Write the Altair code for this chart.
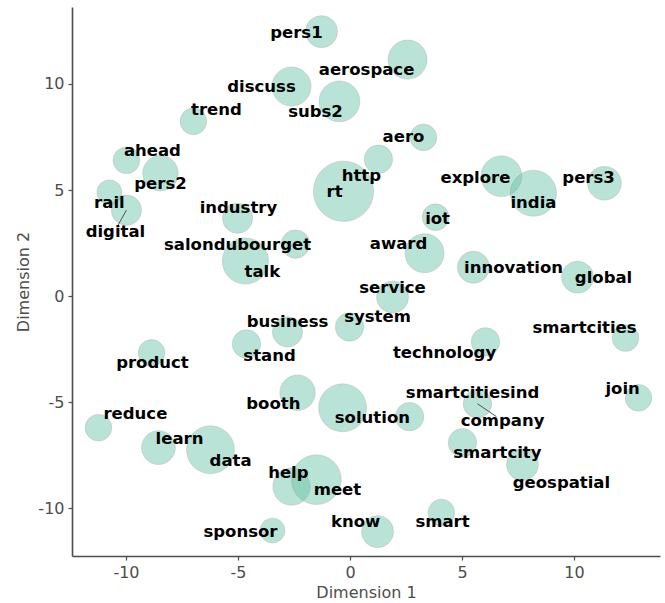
import altair as alt
import pandas as pd

words = ["pers1", "aerospace", "discuss", "subs2", "trend", "ahead", "pers2", "rail",
         "digital", "industry", "salondubourget", "talk", "rt", "http", "aero", "explore",
         "india", "pers3", "iot", "award", "innovation", "global", "service", "system",
         "technology", "smartcities", "join", "smartcitiesind", "solution", "company",
         "smartcity", "geospatial", "business", "stand", "product", "booth", "reduce",
         "learn", "data", "help", "meet", "sponsor", "know", "smart"]
dim1 = [-1.27, 2.57, -2.61, -0.47, -6.99, -9.98, -8.46, -10.74,
        -9.98, -5.02, -2.43, -4.67, -0.29, 1.27, 3.28, 6.76,
        8.19, 11.36, 3.82, 3.33, 5.51, 10.16, 1.90, -0.02,
        6.05, 12.30, 12.88, 2.66, -0.33, 5.69,
        5.02, 7.70, -2.79, -4.62, -8.86, -2.34, -11.23,
        -8.55, -6.23, -2.61, -1.50, -3.46, 1.23, 4.08]
dim2 = [12.47, 11.15, 9.88, 9.18, 8.24, 6.40, 5.79, 4.89,
        4.05, 3.67, 2.45, 1.65, 4.94, 6.45, 7.48, 5.65,
        4.85, 5.32, 3.72, 2.02, 1.36, 0.89, -0.05, -1.46,
        -2.16, -1.98, -4.80, -5.69, -5.27, -5.08,
        -6.92, -7.95, -1.69, -2.26, -2.68, -4.56, -6.21,
        -7.15, -7.25, -8.99, -8.66, -11.06, -11.11, -10.21]
freq = [18, 22, 22, 23, 15, 15, 20, 14,
        17, 17, 16, 26, 34, 16, 15, 23,
        26, 19, 15, 22, 18, 18, 18, 16,
        16, 15, 15, 16, 27, 16,
        16, 18, 17, 16, 15, 20, 15,
        19, 27, 21, 28, 14, 18, 15]
label_x = [-2.39, 0.74, -3.95, -1.54, -5.96, -8.82, -8.46, -10.74,
           -10.47, -4.98, -5.02, -3.91, -0.69, 0.51, 2.39, 5.60,
           8.19, 10.65, 3.91, 2.17, 7.30, 11.32, 1.90, 1.23,
           4.22, 10.47, 12.17, 5.47, 1.00, 6.81,
           6.58, 9.44, -2.79, -3.59, -8.82, -3.42, -9.58,
           -7.61, -5.33, -2.75, -0.56, -4.89, 0.25, 4.13]
label_y = [12.42, 10.64, 9.88, 8.66, 8.75, 6.82, 5.27, 4.38,
           3.01, 4.14, 2.40, 1.13, 4.89, 5.65, 7.48, 5.55,
           4.38, 5.55, 3.62, 2.45, 1.32, 0.85, 0.38, -0.99,
           -2.68, -1.51, -4.38, -4.56, -5.74, -5.88,
           -7.39, -8.80, -1.22, -2.82, -3.15, -5.08, -5.55,
           -6.73, -7.76, -8.33, -9.13, -11.11, -10.64, -10.68]

seg_words = ["digital", "company"]
seg_x = [-9.98, 5.69]
seg_y = [4.05, -5.08]
seg_x2 = [-10.38, 6.54]
seg_y2 = [3.29, -5.69]

df = pd.DataFrame({"word": words, "dim1": dim1, "dim2": dim2, "freq": freq,
                   "lx": label_x, "ly": label_y})
df["area"] = [f * f for f in freq]
seg = pd.DataFrame({"word": seg_words, "x": seg_x, "y": seg_y, "x2": seg_x2, "y2": seg_y2})

xscale = alt.Scale(domain=[-12.41, 13.84], nice=False, zero=False)
yscale = alt.Scale(domain=[-12.26, 13.63], nice=False, zero=False)

axis_common = dict(
    grid=False, domainColor="#4d4d4d", domainWidth=1.6, tickColor="#4d4d4d",
    tickSize=4, tickWidth=1.2, labelColor="#4d4d4d", labelFontSize=16,
    labelFont="DejaVu Sans", titleFont="DejaVu Sans", titleFontSize=16,
    titleColor="#4d4d4d", titleFontWeight="normal", values=[-10, -5, 0, 5, 10],
    labelPadding=4,
    labelExpr="datum.value < 0 ? '-' + abs(datum.value) : '' + datum.value",
)

base = alt.Chart(df)

points = base.mark_circle(color="#66c2a5", opacity=0.45, stroke="#666666",
                          strokeOpacity=0.5, strokeWidth=1).encode(
    x=alt.X("dim1:Q", scale=xscale, title="Dimension 1",
            axis=alt.Axis(**axis_common, titlePadding=4)),
    y=alt.Y("dim2:Q", scale=yscale, title="Dimension 2",
            axis=alt.Axis(**axis_common, titlePadding=6)),
    size=alt.Size("area:Q", scale=alt.Scale(type="linear", domain=[0, 1156],
                                             range=[0, 3632]), legend=None),
)

segments = alt.Chart(seg).mark_rule(color="#555555", strokeWidth=1).encode(
    x=alt.X("x:Q", scale=xscale), y=alt.Y("y:Q", scale=yscale),
    x2="x2:Q", y2="y2:Q",
)

labels = base.mark_text(font="DejaVu Sans", fontWeight="bold", fontSize=16.5,
                        color="black", baseline="middle", align="center").encode(
    x=alt.X("lx:Q", scale=xscale), y=alt.Y("ly:Q", scale=yscale), text="word:N",
)

chart = alt.layer(points, segments, labels).properties(
    width=588, height=549,
    autosize=alt.AutoSizeParams(type="none"),
    padding={"left": 72, "top": 7, "right": 5, "bottom": 47},
).configure_view(stroke=None)

chart.save("out.html", embed_options={"renderer": "svg", "actions": False})
